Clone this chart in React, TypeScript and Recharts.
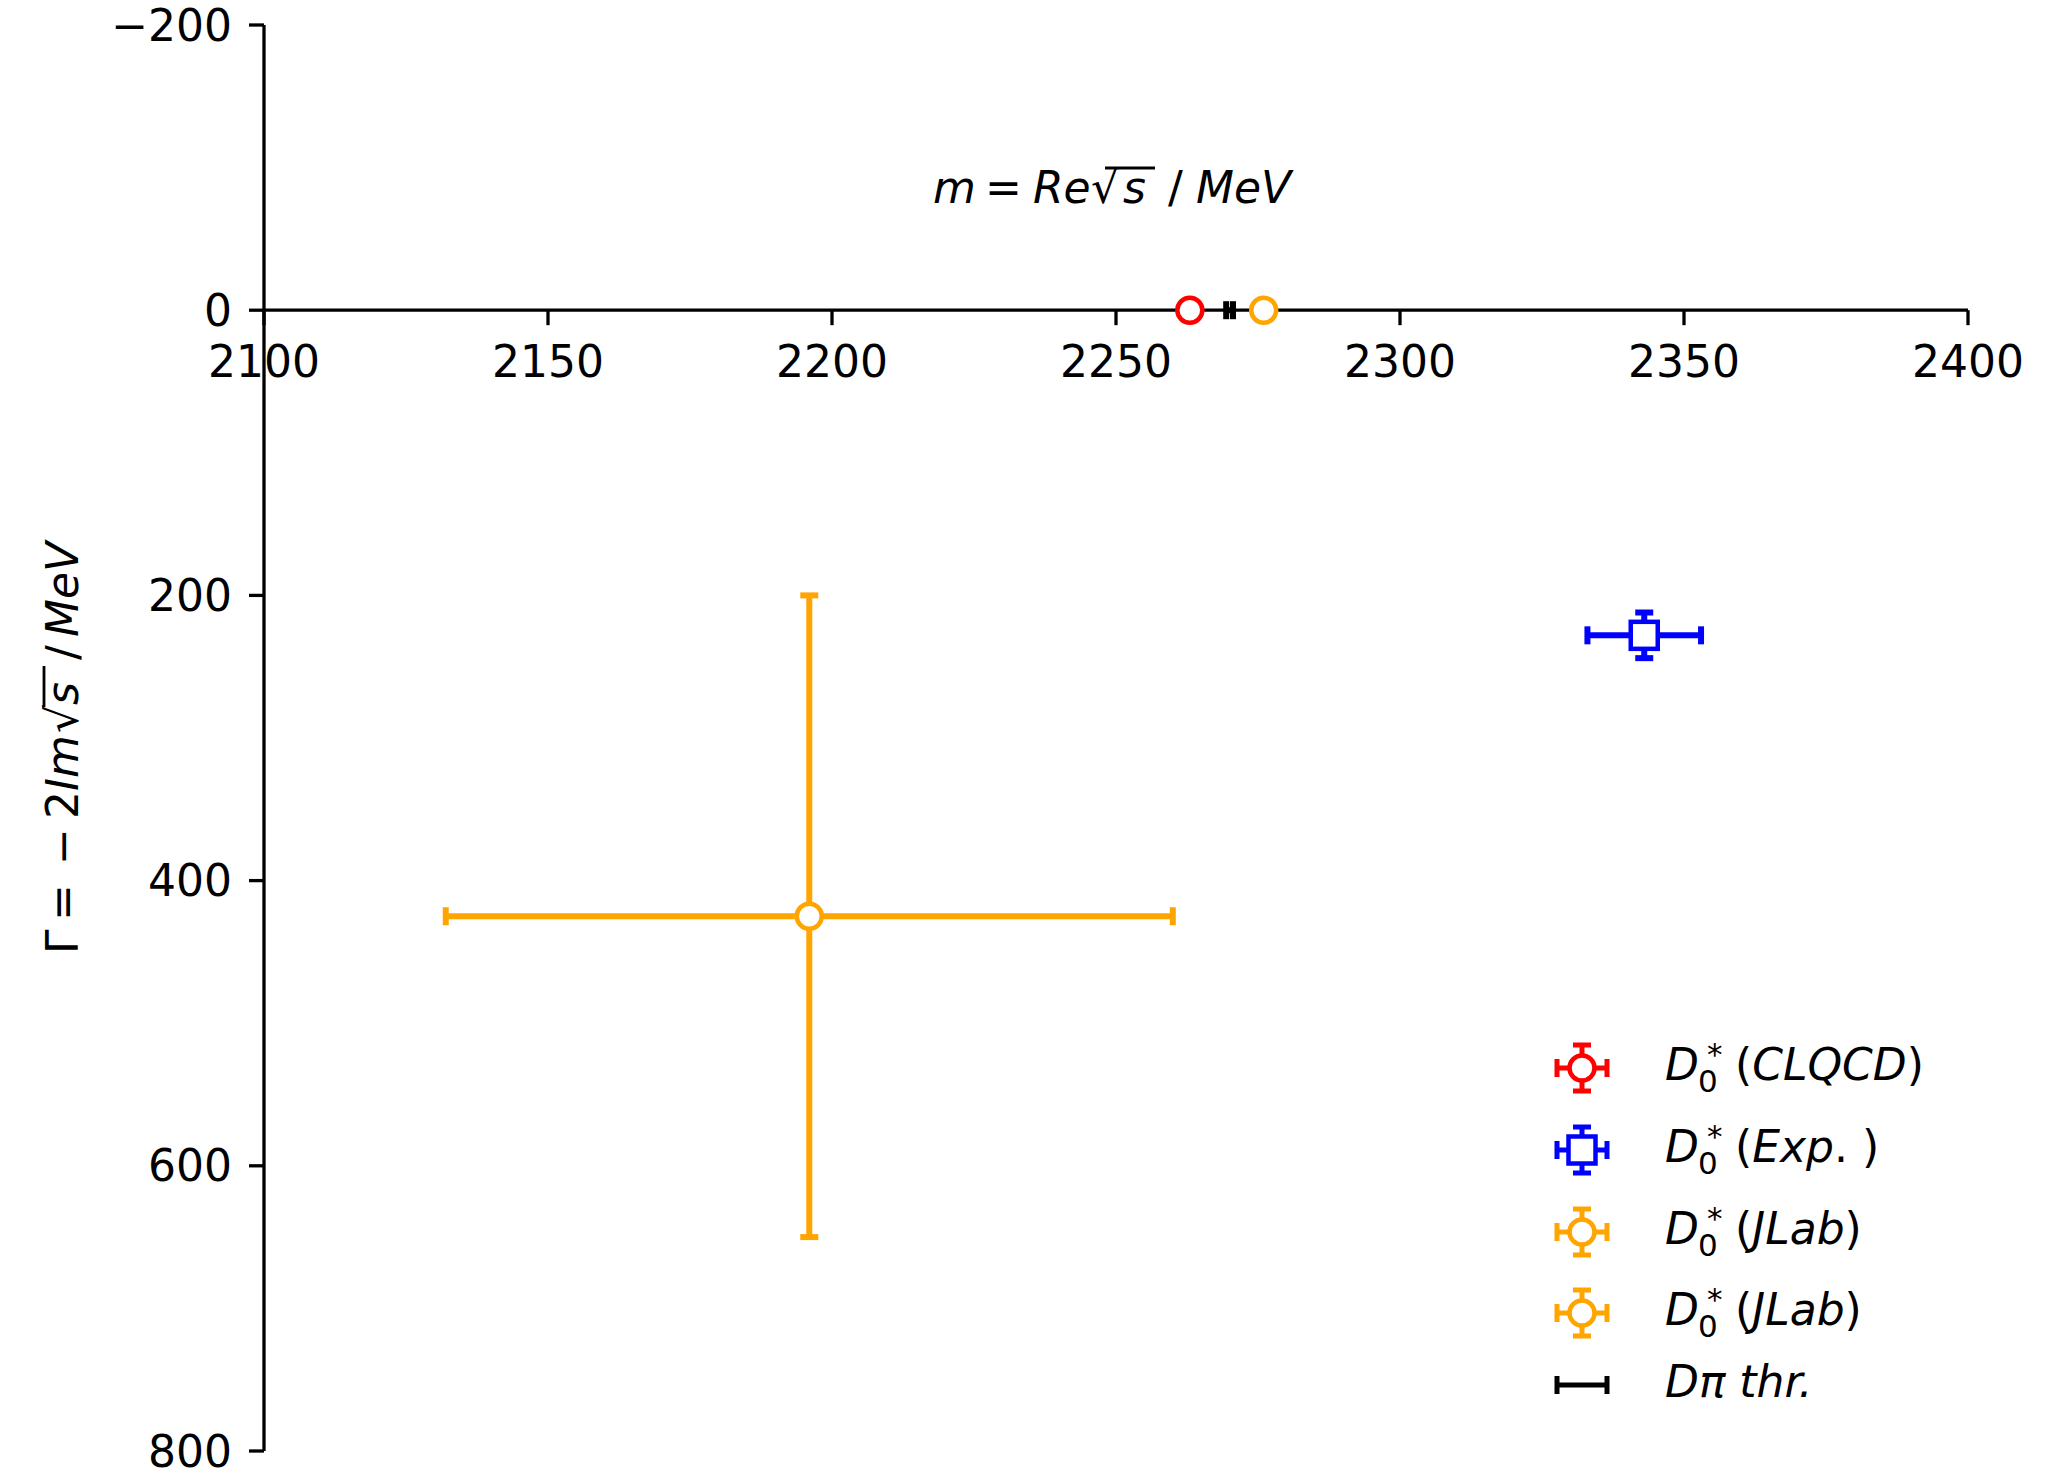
import { ScatterChart, Scatter, XAxis, YAxis, ErrorBar, ReferenceLine, Legend } from 'recharts';

const xTicks = [2100, 2150, 2200, 2250, 2300, 2350, 2400];
const yTicks = [-200, 0, 200, 400, 600, 800];

// m = Re sqrt(s), g = -2 Im sqrt(s), errors in MeV
const clqcd = [{ m: 2263, g: 0 }];
const experiment = [{ m: 2343, g: 228, ex: 10, ey: 16 }];
const jlabWide = [{ m: 2196, g: 425, ex: 64, ey: 225 }];
const jlabNarrow = [{ m: 2276, g: 0 }];
const threshold = [{ m: 2270, g: 0, ex: 0.6 }];

const RED = '#ff0000';
const BLUE = '#0000ff';
const ORANGE = '#ffa500';
const FS = 44;
const AXW = 3.3;
const TICK_UNITS = 10.5; // tick length expressed in y data units

const ring = (color: string) => (props: any) => (
	<circle cx={props.cx} cy={props.cy} r={12.5} fill="#fff" stroke={color} strokeWidth={4.5} />
);
const square = (color: string) => (props: any) => (
	<rect x={props.cx - 13.5} y={props.cy - 13.5} width={27} height={27} fill="#fff" stroke={color} strokeWidth={4.5} />
);
const noShape = () => <g />;

const legendRows = [
	{ color: RED, marker: 'circle', label: ['(', 'CLQCD', ')'] },
	{ color: BLUE, marker: 'square', label: ['(', 'Exp', '. )'] },
	{ color: ORANGE, marker: 'circle', label: ['(', 'JLab', ')'] },
	{ color: ORANGE, marker: 'circle', label: ['(', 'JLab', ')'] },
];

function LegendIcon({ cx, cy, color, marker }: any) {
	return (
		<g stroke={color} fill="none">
			<line x1={cx - 25} x2={cx + 25} y1={cy} y2={cy} strokeWidth={5} />
			<line x1={cx - 25} x2={cx - 25} y1={cy - 9} y2={cy + 9} strokeWidth={5} />
			<line x1={cx + 25} x2={cx + 25} y1={cy - 9} y2={cy + 9} strokeWidth={5} />
			<line x1={cx} x2={cx} y1={cy - 23} y2={cy + 23} strokeWidth={5} />
			<line x1={cx - 9} x2={cx + 9} y1={cy - 23} y2={cy - 23} strokeWidth={5} />
			<line x1={cx - 9} x2={cx + 9} y1={cy + 23} y2={cy + 23} strokeWidth={5} />
			{marker === 'circle' ? (
				<circle cx={cx} cy={cy} r={12.5} fill="#fff" strokeWidth={4.5} />
			) : (
				<rect x={cx - 13.5} y={cy - 13.5} width={27} height={27} fill="#fff" strokeWidth={4.5} />
			)}
		</g>
	);
}

function LegendBox() {
	const ys = [48, 130, 212, 293];
	const tx = 145;
	return (
		<svg width={450} height={400} style={{ fontFamily: 'DejaVu Sans' }}>
			{legendRows.map((r, i) => {
				const b = ys[i] + 12;
				return (
					<g key={i}>
						<LegendIcon cx={62} cy={ys[i]} color={r.color} marker={r.marker} />
						<text x={tx} y={b} fontSize={FS} fontStyle="italic">D</text>
						<text x={tx + 33} y={b + 12} fontSize={31}>0</text>
						<text x={tx + 42} y={b - 15} fontSize={31}>*</text>
						<text x={tx + 70} y={b} fontSize={FS}>
							<tspan>{r.label[0]}</tspan>
							<tspan fontStyle="italic">{r.label[1]}</tspan>
							<tspan>{r.label[2]}</tspan>
						</text>
					</g>
				);
			})}
			<g stroke="#000">
				<line x1={37} x2={87} y1={365} y2={365} strokeWidth={5} />
				<line x1={37} x2={37} y1={356} y2={374} strokeWidth={5} />
				<line x1={87} x2={87} y1={356} y2={374} strokeWidth={5} />
			</g>
			<text x={tx} y={377} fontSize={FS} fontStyle="italic">Dπ thr.</text>
		</svg>
	);
}

function Title() {
	const x0 = 933;
	const y = 203;
	return (
		<g fontSize={FS} fill="#000">
			<text x={x0} y={y} fontStyle="italic">m</text>
			<text x={x0 + 52} y={y}>=</text>
			<text x={x0 + 100} y={y} fontStyle="italic">Re</text>
			<text x={x0 + 158} y={y}>√</text>
			<line x1={x0 + 172} x2={x0 + 222} y1={y - 35} y2={y - 35} stroke="#000" strokeWidth={2.8} />
			<text x={x0 + 190} y={y} fontStyle="italic">s</text>
			<text x={x0 + 235} y={y}>/</text>
			<text x={x0 + 263} y={y} fontStyle="italic">MeV</text>
		</g>
	);
}

function YLabel() {
	return (
		<g transform="translate(78,954) rotate(-90)" fontSize={FS} fill="#000">
			<text x={0} y={0}>Γ</text>
			<text x={33} y={0}>=</text>
			<text x={89} y={0}>−</text>
			<text x={135} y={0}>2</text>
			<text x={163} y={0} fontStyle="italic">Im</text>
			<text x={221} y={0}>√</text>
			<line x1={247} x2={288} y1={-34} y2={-34} stroke="#000" strokeWidth={2.8} />
			<text x={249} y={0} fontStyle="italic">s</text>
			<text x={294} y={0}>/</text>
			<text x={317} y={0} fontStyle="italic">MeV</text>
		</g>
	);
}

export default function App() {
	return (
		<div
			style={{
				position: 'absolute',
				left: 0,
				top: 0,
				width: 2063,
				height: 1475,
				background: '#fff',
				fontFamily: 'DejaVu Sans',
			}}
		>
			<ScatterChart width={2063} height={1475} margin={{ top: 25, right: 95, bottom: 24, left: 184 }}>
				<XAxis type="number" dataKey="m" domain={[2100, 2400]} ticks={xTicks} hide />
				<YAxis
					type="number"
					dataKey="g"
					domain={[-200, 800]}
					ticks={yTicks}
					interval={0}
					reversed
					width={80}
					tickSize={15}
					tickMargin={17}
					axisLine={{ stroke: '#000', strokeWidth: AXW }}
					tickLine={{ stroke: '#000', strokeWidth: AXW }}
					tick={{ fill: '#000', fontSize: FS }}
					tickFormatter={(v: number) => String(v).replace('-', '\u2212')}
				/>
				<ReferenceLine y={0} stroke="#000" strokeWidth={AXW} />
				{xTicks.map((t) => (
					<ReferenceLine
						key={t}
						segment={[
							{ x: t, y: 0 },
							{ x: t, y: TICK_UNITS },
						]}
						stroke="#000"
						strokeWidth={AXW}
						label={{ value: String(t), position: 'bottom', offset: 21, fill: '#000', fontSize: FS }}
					/>
				))}
				<Scatter data={threshold} shape={noShape} isAnimationActive={false}>
					<ErrorBar dataKey="ex" direction="x" width={9} stroke="#000" strokeWidth={6} isAnimationActive={false} />
				</Scatter>
				<Scatter data={jlabWide} shape={ring(ORANGE)} isAnimationActive={false}>
					<ErrorBar dataKey="ex" direction="x" width={9} stroke={ORANGE} strokeWidth={6} isAnimationActive={false} />
					<ErrorBar dataKey="ey" direction="y" width={9} stroke={ORANGE} strokeWidth={6} isAnimationActive={false} />
				</Scatter>
				<Scatter data={experiment} shape={square(BLUE)} isAnimationActive={false}>
					<ErrorBar dataKey="ex" direction="x" width={9} stroke={BLUE} strokeWidth={6} isAnimationActive={false} />
					<ErrorBar dataKey="ey" direction="y" width={9} stroke={BLUE} strokeWidth={6} isAnimationActive={false} />
				</Scatter>
				<Scatter data={clqcd} shape={ring(RED)} isAnimationActive={false} />
				<Scatter data={jlabNarrow} shape={ring(ORANGE)} isAnimationActive={false} />
				<Title />
				<YLabel />
				<Legend
					layout="horizontal"
					verticalAlign="middle"
					align="center"
					wrapperStyle={{ left: 1520, top: 1020, width: 450, height: 400 }}
					content={() => <LegendBox />}
				/>
			</ScatterChart>
		</div>
	);
}
